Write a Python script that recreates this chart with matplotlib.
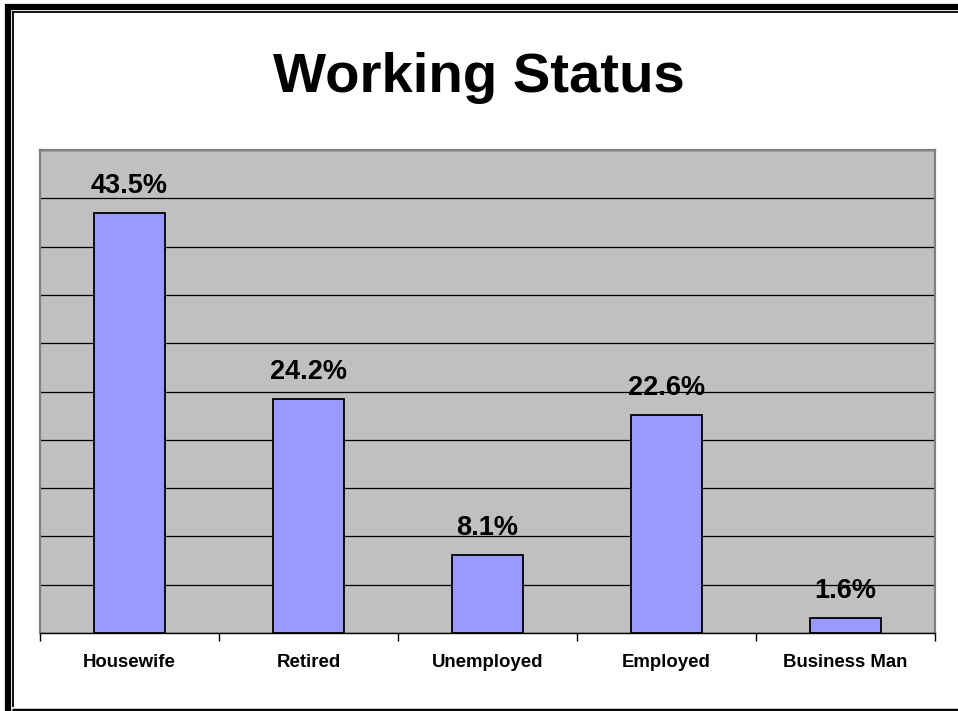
import matplotlib
matplotlib.use("Agg")
from matplotlib import pyplot as plt
from matplotlib.lines import Line2D

plt.rcParams['font.family'] = ['Liberation Sans', 'DejaVu Sans']

categories = ['Housewife', 'Retired', 'Unemployed', 'Employed', 'Business Man']
values = [43.5, 24.2, 8.1, 22.6, 1.6]
labels = ['43.5%', '24.2%', '8.1%', '22.6%', '1.6%']

W, H = 958, 711
fig = plt.figure(figsize=(W / 100, H / 100), dpi=100)

# plot area in pixel coordinates of the reference
left, right, top, bottom = 40, 935, 150, 633
ax = fig.add_axes([left / W, 1 - bottom / H, (right - left) / W, (bottom - top) / H])
ax.set_facecolor('#c0c0c0')

x = list(range(len(categories)))
ax.bar(x, values, width=0.4, color='#9999ff', edgecolor='black', linewidth=1.3, zorder=3)
for xi, v, lab in zip(x, values, labels):
    ax.annotate(lab, (xi, v), xytext=(0, 10), textcoords='offset points',
                ha='center', va='bottom', fontsize=19.5, fontweight='bold', zorder=4)

ax.set_xlim(-0.5, len(categories) - 0.5)
ax.set_ylim(0, 50)
ax.set_yticks(range(0, 51, 5))
ax.yaxis.grid(True, color='black', linewidth=0.9)
ax.set_axisbelow(True)
ax.tick_params(axis='y', left=False, labelleft=False)

ax.set_xticks([i - 0.5 for i in range(len(categories) + 1)], minor=False)
ax.set_xticklabels([])
ax.set_xticks(x, minor=True)
ax.set_xticklabels(categories, minor=True, fontsize=13.4, fontweight='bold')
ax.tick_params(axis='x', which='major', length=6, color='black', width=1)
ax.tick_params(axis='x', which='minor', length=0, pad=15)

for side in ['left', 'top', 'right']:
    ax.spines[side].set_color('#808080')
    ax.spines[side].set_linewidth(1.6)
ax.spines['bottom'].set_color('black')
ax.spines['bottom'].set_linewidth(1)

fig.text(0.5, 1 - 78 / H, 'Working Status', ha='center', va='center',
         fontsize=40.5, fontweight='bold')

# double border frame
def fx(px):
    return px / W

def fy(py):
    return 1 - py / H

frame = [
    ([fx(5), fx(W + 5)], [fy(7), fy(7)], 4.5),
    ([fx(12), fx(W + 5)], [fy(12), fy(12)], 1.3),
    ([fx(8), fx(8)], [fy(4), fy(H + 5)], 4.5),
    ([fx(12.8), fx(12.8)], [fy(11), fy(707)], 1.3),
    ([fx(12), fx(W + 5)], [fy(709.5), fy(709.5)], 2.5),
]
for xs, ys, lw in frame:
    fig.add_artist(Line2D(xs, ys, color='black', linewidth=lw, solid_capstyle='butt'))

fig.savefig('out.png', dpi=100)
